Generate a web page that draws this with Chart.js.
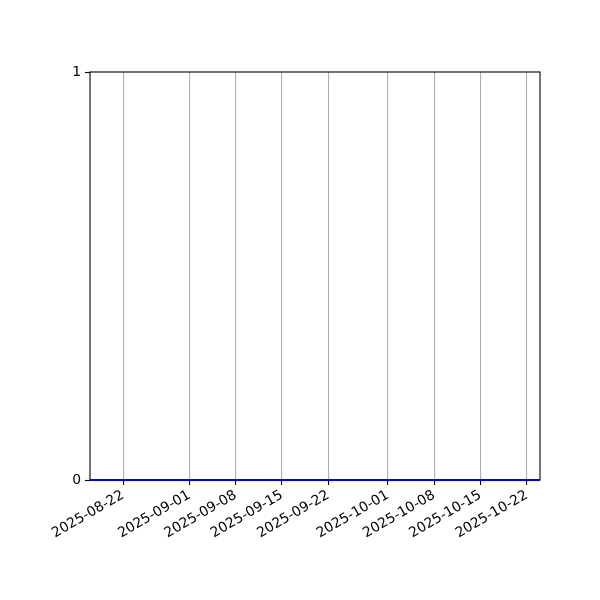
<!DOCTYPE html>
<html>
<head>
<meta charset="utf-8">
<script src="https://cdn.jsdelivr.net/npm/chart.js@4.4.0/dist/chart.umd.min.js"></script>
<style>
  body { margin: 0; background: #fff; }
  #wrap { width: 600px; height: 600px; }
</style>
</head>
<body>
<div id="wrap"><canvas id="chart"></canvas></div>
<script>
// data
const lineDates = ['2025-08-17', '2025-10-24'];
const lineValues = [0, 0];
const tickDates = ['2025-08-22', '2025-09-01', '2025-09-08', '2025-09-15', '2025-09-22',
                   '2025-10-01', '2025-10-08', '2025-10-15', '2025-10-22'];
const yTicks = [0, 1];
const xMin = '2025-08-17';
const xMax = '2025-10-24';

function dayNum(s) {
    const p = s.split('-');
    return Date.UTC(+p[0], +p[1] - 1, +p[2]) / 86400000;
}
function fmtDay(v) {
    const d = new Date(Math.round(v) * 86400000);
    return d.toISOString().slice(0, 10);
}

Chart.defaults.font.family = 'DejaVu Sans';
Chart.defaults.font.size = 13.9;
Chart.defaults.color = '#000';

const frame = {
    id: 'frame',
    beforeDatasetsDraw(chart) {
        const a = chart.chartArea, ctx = chart.ctx;
        ctx.save();
        ctx.strokeStyle = '#000';
        ctx.lineWidth = 1.1;
        ctx.strokeRect(a.left, a.top, a.right - a.left, a.bottom - a.top);
        ctx.restore();
    }
};

const ctx = document.getElementById('chart').getContext('2d');
new Chart(ctx, {
    type: 'line',
    data: {
        datasets: [{
            data: lineDates.map((d, i) => ({ x: dayNum(d), y: lineValues[i] })),
            borderColor: '#0000dd',
            borderWidth: 2,
            pointRadius: 0,
            tension: 0,
            clip: false
        }]
    },
    options: {
        responsive: true,
        maintainAspectRatio: false,
        animation: false,
        layout: { padding: { top: 72, right: 60, left: 0, bottom: 0 } },
        plugins: { legend: { display: false }, tooltip: { enabled: false } },
        scales: {
            x: {
                type: 'linear',
                min: dayNum(xMin),
                max: dayNum(xMax),
                border: { display: false },
                grid: { color: '#b0b0b0', lineWidth: 1.1, tickColor: '#000', tickLength: 5, tickWidth: 1.1 },
                ticks: {
                    autoSkip: false,
                    minRotation: 30,
                    maxRotation: 30,
                    padding: 2,
                    callback: v => fmtDay(v)
                },
                afterBuildTicks: s => { s.ticks = tickDates.map(d => ({ value: dayNum(d) })); },
                afterFit: s => { s.height = 120; s.paddingLeft = 0; s.paddingRight = 0; }
            },
            y: {
                min: 0,
                max: 1,
                border: { display: false },
                grid: { color: 'rgba(0,0,0,0)', tickColor: '#000', tickLength: 5, tickWidth: 1.1 },
                ticks: { padding: 4 },
                afterBuildTicks: s => { s.ticks = yTicks.map(v => ({ value: v })); },
                afterFit: s => { s.width = 90; s.paddingTop = 0; s.paddingBottom = 0; }
            }
        }
    },
    plugins: [frame]
});
</script>
</body>
</html>
